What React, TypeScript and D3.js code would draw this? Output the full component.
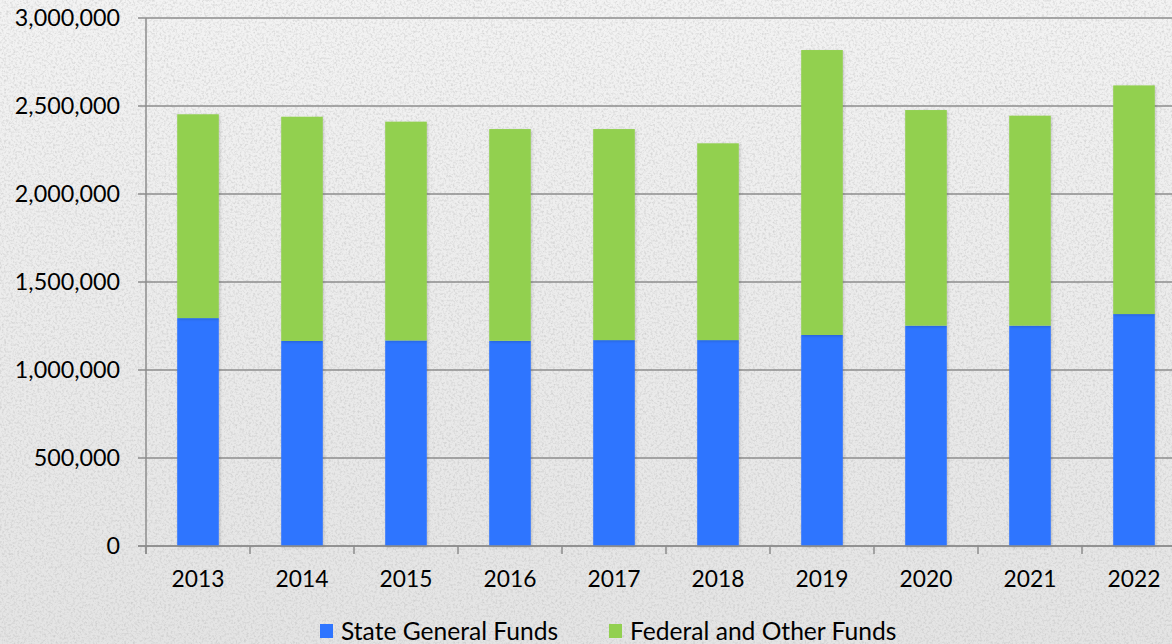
import React from "react";
import * as d3 from "d3";

const years = ["2013", "2014", "2015", "2016", "2017", "2018", "2019", "2020", "2021", "2022"];
const stateGeneralFunds = [1295000, 1165000, 1168000, 1166000, 1170000, 1170000, 1199000, 1252000, 1252000, 1318000];
const totalFunds = [2453000, 2439000, 2411000, 2369000, 2369000, 2288000, 2818000, 2477000, 2445000, 2617000];
const federalOtherFunds = totalFunds.map((t, i) => t - stateGeneralFunds[i]);
const yTicks = [0, 500000, 1000000, 1500000, 2000000, 2500000, 3000000];
const seriesNames = ["State General Funds", "Federal and Other Funds"];
const seriesColors = ["#2e75ff", "#92d050"];

const W = 1172;
const H = 644;
const FONT = "Lato, 'Open Sans', sans-serif";

export default function App() {
  const x = d3
    .scaleBand<string>()
    .domain(years)
    .range([146, 1186])
    .paddingInner(0.6)
    .paddingOuter(0.3);
  const y = d3.scaleLinear().domain([0, 3000000]).range([546, 18]);
  const fmt = d3.format(",");
  const step = x.step();
  const edges = years.map((_, i) => 146 + i * step);

  const data = years.map((yr, i) => ({ year: yr, state: stateGeneralFunds[i], federal: federalOtherFunds[i] }));
  const stack = d3.stack<any>().keys(["state", "federal"])(data);

  return (
    <svg width={W} height={H} style={{ position: "absolute", left: 0, top: 0, display: "block" }}>
      <defs>
        <linearGradient id="bg" x1="0" y1="0" x2="0" y2="1">
          <stop offset="0" stopColor="#f3f3f3" />
          <stop offset="1" stopColor="#e4e4e4" />
        </linearGradient>
        <filter id="noise" x="0" y="0" width="100%" height="100%">
          <feTurbulence type="fractalNoise" baseFrequency="0.45" numOctaves="3" seed="3" result="t" />
          <feColorMatrix
            type="matrix"
            values="0 0 0 0 0.45  0 0 0 0 0.45  0 0 0 0 0.45  0 0 0 -2.2 1.25"
            result="m"
          />
          <feComposite in="m" in2="SourceGraphic" operator="in" />
        </filter>
        <filter id="shadow" x="-20%" y="-5%" width="140%" height="110%">
          <feDropShadow dx="1" dy="1" stdDeviation="1.5" floodColor="#000" floodOpacity="0.18" />
        </filter>
      </defs>
      <rect x={0} y={0} width={W} height={H} fill="url(#bg)" />
      <rect x={0} y={0} width={W} height={H} fill="#fff" filter="url(#noise)" opacity={0.45} />

      {/* gridlines */}
      {yTicks.map((t) => (
        <line key={"g" + t} x1={138} x2={W} y1={y(t)} y2={y(t)} stroke="#8c8c8c" strokeWidth={1.3} />
      ))}
      {/* y axis */}
      <line x1={146} x2={146} y1={y(3000000)} y2={y(0) + 8} stroke="#8c8c8c" strokeWidth={1.5} />
      {/* x ticks */}
      {edges.map((e, i) => (
        <line key={"xt" + i} x1={e} x2={e} y1={y(0)} y2={y(0) + 8} stroke="#8c8c8c" strokeWidth={1.5} />
      ))}

      {/* bars */}
      {stack.map((s, si) =>
        s.map((d, i) => (
          <rect
            key={si + "-" + i}
            x={x(years[i])}
            y={y(d[1])}
            width={x.bandwidth()}
            height={y(d[0]) - y(d[1])}
            fill={seriesColors[si]}
            filter="url(#shadow)"
          />
        ))
      )}
      <line x1={138} x2={W} y1={y(0)} y2={y(0)} stroke="#8c8c8c" strokeWidth={1.5} />

      {/* y labels */}
      {yTicks.map((t) => (
        <text
          key={"yl" + t}
          x={120}
          y={y(t)}
          dy="0.36em"
          textAnchor="end"
          fontFamily={FONT}
          fontSize={23.3}
          fill="#000"
        >
          {fmt(t)}
        </text>
      ))}
      {/* x labels */}
      {years.map((yr) => (
        <text
          key={"xl" + yr}
          x={(x(yr) as number) + x.bandwidth() / 2}
          y={587}
          textAnchor="middle"
          fontFamily={FONT}
          fontSize={22.8}
          fill="#000"
        >
          {yr}
        </text>
      ))}

      {/* legend */}
      {seriesNames.map((n, i) => {
        const lx = i === 0 ? 320 : 609;
        return (
          <g key={n}>
            <rect x={lx} y={624} width={13} height={14} fill={seriesColors[i]} />
            <text x={lx + 21} y={640} fontFamily={FONT} fontSize={24.6} fill="#000">
              {n}
            </text>
          </g>
        );
      })}
    </svg>
  );
}
